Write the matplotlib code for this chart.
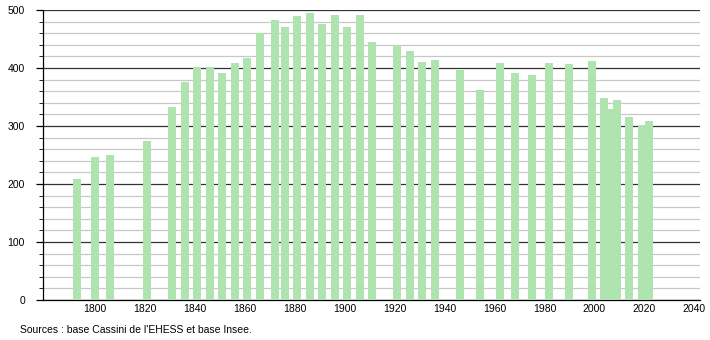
import matplotlib.pyplot as plt
from matplotlib.ticker import MultipleLocator

plt.rcParams['font.family'] = ['Liberation Sans', 'DejaVu Sans']

years = [1793, 1800, 1806, 1821, 1831, 1836, 1841, 1846, 1851, 1856,
         1861, 1866, 1872, 1876, 1881, 1886, 1891, 1896, 1901, 1906,
         1911, 1921, 1926, 1931, 1936, 1946, 1954, 1962, 1968, 1975,
         1982, 1990, 1999, 2004, 2006, 2009, 2014, 2019, 2022]
population = [209, 247, 250, 274, 333, 376, 402, 401, 391, 409,
              418, 460, 483, 471, 490, 494, 476, 491, 471, 491,
              444, 440, 429, 410, 414, 397, 362, 409, 391, 388,
              409, 407, 412, 348, 330, 345, 315, 302, 309]
xticks = [1800, 1820, 1840, 1860, 1880, 1900, 1920, 1940, 1960, 1980, 2000, 2020, 2040]

fig = plt.figure(figsize=(7.1, 3.4), dpi=100)
ax = fig.add_axes([0.0606, 0.1176, 0.9254, 0.853])

ax.bar(years, population, width=3.2, color='#afe3af', zorder=3)

ax.set_xlim(1779.2, 2042.3)
ax.set_ylim(0, 500)
ax.set_xticks(xticks)
ax.yaxis.set_major_locator(MultipleLocator(100))
ax.yaxis.set_minor_locator(MultipleLocator(20))
ax.grid(which='major', axis='y', color='#333333', linewidth=0.9, zorder=1)
ax.grid(which='minor', axis='y', color='#c8c8c8', linewidth=0.9, zorder=1)

for s in ['top', 'right']:
    ax.spines[s].set_visible(False)
ax.spines['left'].set_linewidth(0.9)
ax.spines['bottom'].set_linewidth(0.9)
ax.tick_params(axis='x', length=0, labelsize=7.5, pad=3)
ax.tick_params(axis='y', which='major', length=5, width=0.9, labelsize=7.5, pad=8)
ax.tick_params(axis='y', which='minor', length=3, width=0.6)

fig.text(0.028, 0.022, "Sources : base Cassini de l'EHESS et base Insee.", fontsize=7.5)

fig.savefig('out.png', dpi=100)
